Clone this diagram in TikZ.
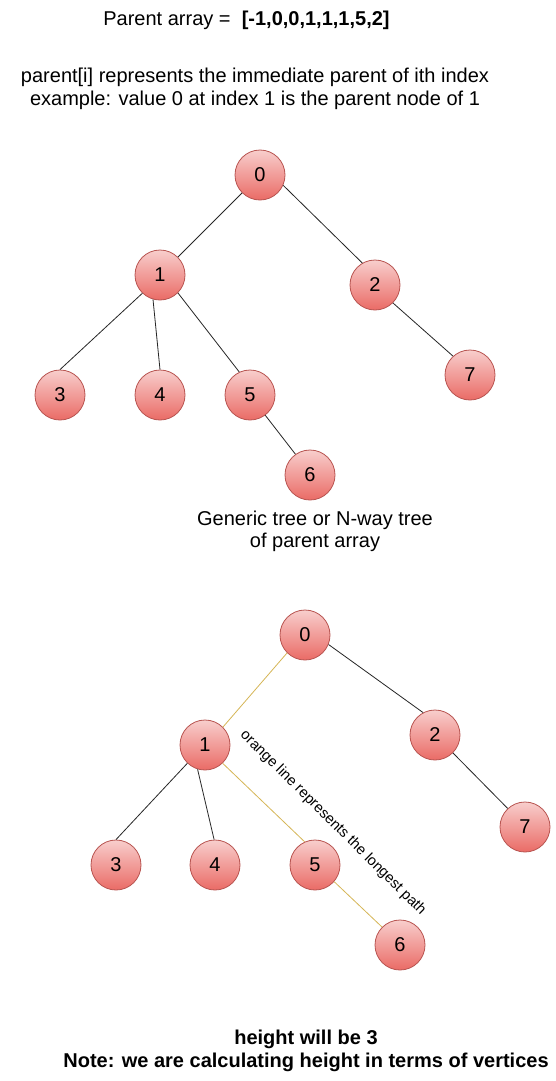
\documentclass[tikz,border=0pt]{standalone}
\usepackage{fontspec}
\setmainfont{Liberation Sans}
\definecolor{ntop}{HTML}{F8CECC}
\definecolor{nbot}{HTML}{EA6B66}
\definecolor{nline}{HTML}{B85450}
\definecolor{orangeline}{HTML}{D6B656}
\begin{document}
\begin{tikzpicture}[x=1pt,y=-1pt,
  vert/.style={circle,minimum size=50pt,inner sep=0pt,draw=nline,line width=0.8pt,
    top color=ntop,bottom color=nbot,font=\fontsize{20}{24}\selectfont},
  edge/.style={draw=black!85,line width=0.8pt},
  oedge/.style={draw=orangeline,line width=0.8pt},
  txt/.style={align=center,inner sep=0pt,font=\fontsize{20}{22.5}\selectfont}]
\useasboundingbox (0,0) rectangle (556,1081);
\fill[white] (0,0) rectangle (556,1081);

% texts
\node[txt] (title) at (246.5,20) {Parent array = \ \textbf{[-1,0,0,1,1,1,5,2]}};
\node[txt] (desc) at (255,89) {parent[i] represents the immediate parent of ith index\\ example: value 0 at index 1 is the parent node of 1};
\node[txt] (cap1) at (315,531.5) {Generic tree or N-way tree\\of parent array};
\node[txt,font=\fontsize{20}{22.5}\selectfont\bfseries] (cap2) at (306,1051) {height will be 3\\ Note: we are calculating height in terms of vertices};

% top tree
\node[vert] (t0) at (260,175) {0};
\node[vert] (t1) at (160,275) {1};
\node[vert] (t2) at (375,285) {2};
\node[vert] (t3) at (60,395) {3};
\node[vert] (t4) at (160,395) {4};
\node[vert] (t5) at (250,395) {5};
\node[vert] (t6) at (310,475) {6};
\node[vert] (t7) at (470,375) {7};
\draw[edge] (t0.225) -- (t1.45);
\draw[edge] (t0.-24) -- (t2.120);
\draw[edge] (t1.226) -- (t3.90);
\draw[edge] (t1.254) -- (t4.90);
\draw[edge] (t1.315) -- (t5.115);
\draw[edge] (t2.315) -- (t7.132);
\draw[edge] (t5.-53) -- (t6.125);

% bottom tree
\node[vert] (b0) at (305,635) {0};
\node[vert] (b1) at (205,745) {1};
\node[vert] (b2) at (435,735) {2};
\node[vert] (b3) at (116,865) {3};
\node[vert] (b4) at (215,865) {4};
\node[vert] (b5) at (315,865) {5};
\node[vert] (b6) at (400,945) {6};
\node[vert] (b7) at (525,827) {7};
\draw[oedge] (b0.225) -- (b1.45);
\draw[edge] (b0.-22) -- (b2.118);
\draw[edge] (b1.226) -- (b3.90);
\draw[edge] (b1.253) -- (b4.92);
\draw[oedge] (b1.314) -- (b5.114);
\draw[edge] (b2.315) -- (b7.133);
\draw[oedge] (b5.-41) -- (b6.135);

\node[inner sep=0pt,rotate=-44.8,font=\fontsize{14.7}{16}\selectfont] (note) at (333,823) {orange line represents the longest path};
\end{tikzpicture}
\end{document}
